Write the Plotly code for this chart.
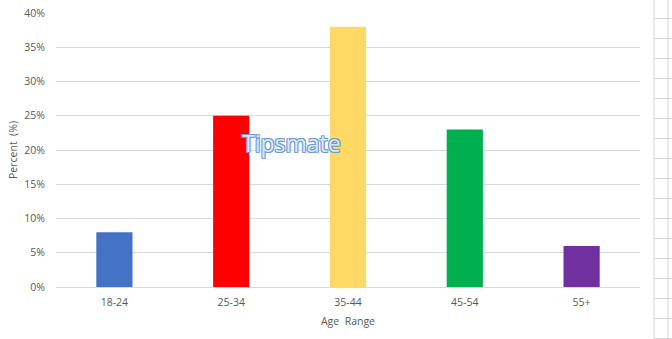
import plotly.graph_objects as go

categories = ["18-24", "25-34", "35-44", "45-54", "55+"]
percent = [8, 25, 38, 23, 6]
bar_colors = ["#4472C4", "#FF0000", "#FFD966", "#00B050", "#7030A0"]
y_ticks = [0, 5, 10, 15, 20, 25, 30, 35, 40]
y_tick_labels = [f"{v}%" for v in y_ticks]

W, H = 672, 339
L, R, T, B = 55.5, 31.5, 13, 52

fig = go.Figure()
fig.add_trace(go.Bar(
    x=categories, y=percent, marker=dict(color=bar_colors, line=dict(width=0)),
    width=0.31, hoverinfo="skip"
))

font_family = "Open Sans, Noto Sans, sans-serif"
fig.update_layout(
    width=W, height=H,
    margin=dict(l=L, r=R, t=T, b=B, pad=0, autoexpand=False),
    paper_bgcolor="white", plot_bgcolor="white",
    showlegend=False,
    font=dict(family=font_family, color="#595959", size=10),
    xaxis=dict(
        automargin=False,
        showgrid=False, showline=True, linecolor="#D9D9D9", linewidth=1,
        ticks="", ticklabelstandoff=5, tickfont=dict(size=10.5, color="#595959"),
        title=dict(text="Age  Range", font=dict(size=10.5, color="#595959"), standoff=10),
    ),
    yaxis=dict(
        automargin=False,
        range=[0, 40], tickvals=y_ticks, ticktext=y_tick_labels,
        showgrid=True, gridcolor="#D9D9D9", gridwidth=1, zeroline=False,
        showline=False, ticks="", ticklabelstandoff=10,
        tickfont=dict(size=10.5, color="#595959"),
        title=dict(text="Percent  (%)", font=dict(size=10.5, color="#595959"), standoff=4),
    ),
)

# Watermark
fig.add_annotation(
    text="Tipsmate", xref="paper", yref="paper",
    x=(291 - L) / (W - L - R), y=(H - B - 143) / (H - T - B),
    showarrow=False,
    font=dict(family="Open Sans, sans-serif", size=23, color="#DCE8F7",
              shadow="-1px -1px 0 #6C9BD8, 1px -1px 0 #6C9BD8, -1px 1px 0 #6C9BD8, 1px 1px 0 #6C9BD8"),
)

# Spreadsheet cell grid on the right edge (background decoration)
pw = W - L - R
ph = H - T - B
def px_to_paper_x(px):
    return (px - L) / pw
def px_to_paper_y(py):
    return (H - B - py) / ph

line_style = dict(color="#D4D4D4", width=1)
for vx in (654.5, 668.5):
    fig.add_shape(type="line", xref="paper", yref="paper",
                  x0=px_to_paper_x(vx), x1=px_to_paper_x(vx),
                  y0=px_to_paper_y(0), y1=px_to_paper_y(338.5), line=line_style, layer="below")
hy = 18.5
while hy < H:
    fig.add_shape(type="line", xref="paper", yref="paper",
                  x0=px_to_paper_x(654.5), x1=px_to_paper_x(672),
                  y0=px_to_paper_y(hy), y1=px_to_paper_y(hy), line=line_style, layer="below")
    hy += 20

fig.write_html("out.html")
